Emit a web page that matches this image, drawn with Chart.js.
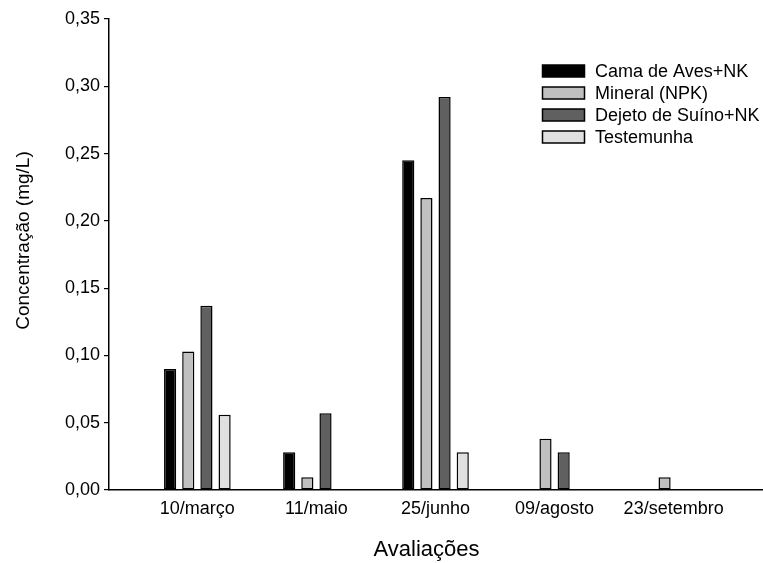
<!DOCTYPE html>
<html>
<head>
<meta charset="utf-8">
<script src="https://cdn.jsdelivr.net/npm/chart.js@4.4.0/dist/chart.umd.min.js"></script>
<style>
html,body{margin:0;padding:0;background:#fff;}
#wrap{width:763px;height:563px;position:relative;}
</style>
</head>
<body>
<div id="wrap"><canvas id="c" width="763" height="563"></canvas></div>
<script>
const categories = ["10/março", "11/maio", "25/junho", "09/agosto", "23/setembro"];
const seriesNames = ["Cama de Aves+NK", "Mineral (NPK)", "Dejeto de Suíno+NK", "Testemunha"];
const camaAves = [0.090, 0.028, 0.245, 0, 0];
const mineral = [0.103, 0.0095, 0.217, 0.038, 0.0095];
const dejetoSuino = [0.137, 0.057, 0.292, 0.028, 0];
const testemunha = [0.056, 0, 0.028, 0, 0];
const yTicks = [0, 0.05, 0.10, 0.15, 0.20, 0.25, 0.30, 0.35];
const xTitle = "Avaliações";
const yTitle = "Concentração (mg/L)";

const colors = ["#000000", "#c0c0c0", "#606060", "#e0e0e0"];
const allSeries = [camaAves, mineral, dejetoSuino, testemunha];
const FONT = "'Liberation Sans', Arial, sans-serif";

const datasets = allSeries.map((vals, k) => ({
  label: seriesNames[k],
  data: vals.map((v, i) => ({x: i + 1, y: v})),
  backgroundColor: colors[k],
  borderColor: "#000",
  borderWidth: 1.5,
  borderSkipped: false,
  categoryPercentage: 0.61,
  barPercentage: 0.67
}));

const legendPlugin = {
  id: 'customLegend',
  afterDraw(chart) {
    const ctx = chart.ctx;
    ctx.save();
    ctx.font = "18px " + FONT;
    ctx.textBaseline = "middle";
    chart.data.datasets.forEach((ds, k) => {
      const y = 71 + k * 22;
      ctx.fillStyle = ds.backgroundColor;
      ctx.fillRect(542.5, y - 6, 42, 12);
      ctx.strokeStyle = "#000";
      ctx.lineWidth = 1.5;
      ctx.strokeRect(542.5, y - 6, 42, 12);
      ctx.fillStyle = "#000";
      ctx.fillText(ds.label, 595, y + 1);
    });
    ctx.restore();
  }
};

const axisTitlePlugin = {
  id: 'axisTitles',
  afterDraw(chart) {
    const ctx = chart.ctx;
    const a = chart.chartArea;
    ctx.save();
    ctx.fillStyle = "#000";
    ctx.textAlign = "center";
    ctx.textBaseline = "middle";
    ctx.font = "22px " + FONT;
    ctx.fillText(xTitle, (a.left + a.right) / 2 - 9, 550);
    ctx.translate(24, (a.top + a.bottom) / 2 - 14);
    ctx.rotate(-Math.PI / 2);
    ctx.font = "19px " + FONT;
    ctx.fillText(yTitle, 0, 0);
    ctx.restore();
  }
};

new Chart(document.getElementById('c'), {
  type: 'bar',
  data: { datasets },
  plugins: [legendPlugin, axisTitlePlugin],
  options: {
    responsive: false,
    animation: false,
    events: [],
    layout: { padding: { top: 19, right: 1, left: 0, bottom: 0 } },
    plugins: { legend: { display: false }, tooltip: { enabled: false } },
    scales: {
      x: {
        type: 'linear',
        offset: false,
        min: 0.258,
        max: 5.742,
        afterBuildTicks: (scale) => { scale.ticks = categories.map((c, i) => ({ value: i + 1 })); },
        afterFit: (scale) => { scale.height = 73; },
        grid: { display: false, drawTicks: false },
        border: { display: true, color: "#000", width: 1.5 },
        ticks: {
          color: "#000",
          font: { family: FONT, size: 18 },
          padding: 8,
          maxRotation: 0,
          autoSkip: false,
          callback: (v) => categories[Math.round(v) - 1] || ""
        }
      },
      y: {
        min: 0,
        max: 0.35,
        afterBuildTicks: (scale) => { scale.ticks = yTicks.map(v => ({ value: v })); },
        afterFit: (scale) => { scale.width = 109; },
        grid: { display: true, drawOnChartArea: false, drawTicks: true, tickLength: 5, color: "#000", lineWidth: 1.2 },
        border: { display: true, color: "#000", width: 1.5 },
        ticks: {
          color: "#000",
          font: { family: FONT, size: 18 },
          padding: 4,
          callback: (v) => v.toFixed(2).replace('.', ',')
        }
      }
    }
  }
});
</script>
</body>
</html>
